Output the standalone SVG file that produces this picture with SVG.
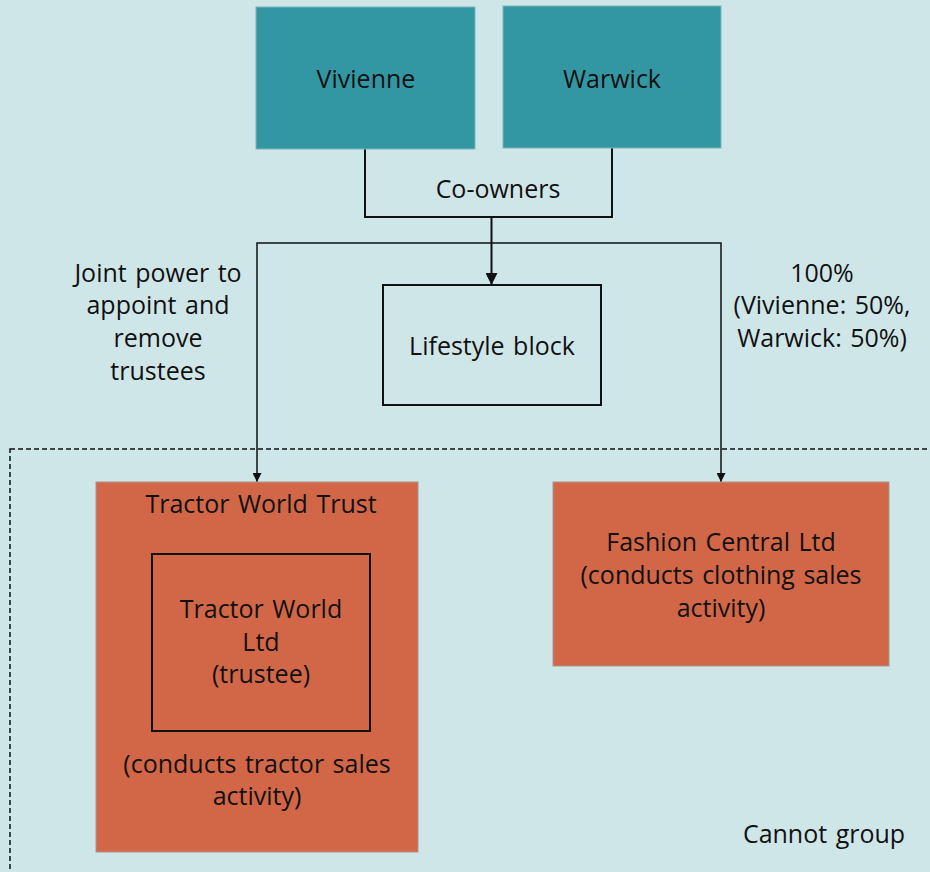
<svg xmlns="http://www.w3.org/2000/svg" width="930" height="872" viewBox="0 0 930 872">
  <style>
    text { font-family: "Open Sans", "Noto Sans", "Liberation Sans", sans-serif; font-size: 25px; word-spacing: 2px; fill: #111; text-anchor: middle; }
    .owner { fill: #3297A3; stroke: #7fb3ba; stroke-width: 1; }
    .entity { fill: #D26748; stroke: #a9968f; stroke-width: 1; }
    .plain { fill: none; stroke: #111; stroke-width: 2; }
    .conn { fill: none; stroke: #111; stroke-width: 2; }
    .thin { fill: none; stroke: #111; stroke-width: 1.5; }
    .boundary { fill: none; stroke: #111; stroke-width: 1.5; stroke-dasharray: 5 3; }
  </style>
  <defs>
    <marker id="arrow" viewBox="0 0 10 10" refX="10" refY="5" markerWidth="9" markerHeight="9" markerUnits="userSpaceOnUse" orient="auto">
      <path d="M0,0 L10,5 L0,10 z" fill="#111"/>
    </marker>
    <marker id="arrowBig" viewBox="0 0 10 10" refX="10" refY="5" markerWidth="12" markerHeight="12" markerUnits="userSpaceOnUse" orient="auto">
      <path d="M0,0 L10,5 L0,10 z" fill="#111"/>
    </marker>
  </defs>

  <rect x="0" y="0" width="930" height="872" fill="#CFE6E8"/>

  <!-- non-grouping boundary -->
  <rect class="boundary" x="10" y="449" width="940" height="450"/>
  <text x="824" y="843">Cannot group</text>

  <g id="connectors">
    <!-- co-owner bracket -->
    <polyline class="conn" points="365,149 365,217 612,217 612,148"/>
    <text x="498" y="198">Co-owners</text>
    <!-- to lifestyle block -->
    <line class="conn" x1="491.5" y1="217" x2="491.5" y2="285" marker-end="url(#arrowBig)"/>
    <!-- branches to trust and company -->
    <polyline class="thin" points="491.5,243 257,243 257,482" marker-end="url(#arrow)"/>
    <polyline class="thin" points="491.5,243 721,243 721,482" marker-end="url(#arrow)"/>
    <text x="158" y="282">Joint power to</text>
    <text x="158" y="314">appoint and</text>
    <text x="158" y="347">remove</text>
    <text x="158" y="380">trustees</text>
    <text x="822" y="282">100%</text>
    <text x="822" y="314">(Vivienne: 50%,</text>
    <text x="822" y="347">Warwick: 50%)</text>
  </g>

  <g id="vivienne">
    <rect class="owner" x="256" y="7" width="219" height="142"/>
    <text x="366" y="88">Vivienne</text>
  </g>

  <g id="warwick">
    <rect class="owner" x="503" y="6" width="218" height="142"/>
    <text x="612" y="88">Warwick</text>
  </g>

  <g id="lifestyle-block">
    <rect class="plain" x="383" y="285" width="218" height="120"/>
    <text x="492" y="355">Lifestyle block</text>
  </g>

  <g id="tractor-world-trust">
    <rect class="entity" x="96" y="482" width="322" height="370"/>
    <text x="261" y="513">Tractor World Trust</text>
    <text x="257" y="773">(conducts tractor sales</text>
    <text x="257" y="805">activity)</text>
  </g>

  <g id="tractor-world-ltd">
    <rect class="plain" x="152" y="554" width="218" height="177"/>
    <text x="261" y="618">Tractor World</text>
    <text x="261" y="651">Ltd</text>
    <text x="261" y="683">(trustee)</text>
  </g>

  <g id="fashion-central">
    <rect class="entity" x="553" y="482" width="336" height="184"/>
    <text x="721" y="551">Fashion Central Ltd</text>
    <text x="721" y="584">(conducts clothing sales</text>
    <text x="721" y="617">activity)</text>
  </g>
</svg>
